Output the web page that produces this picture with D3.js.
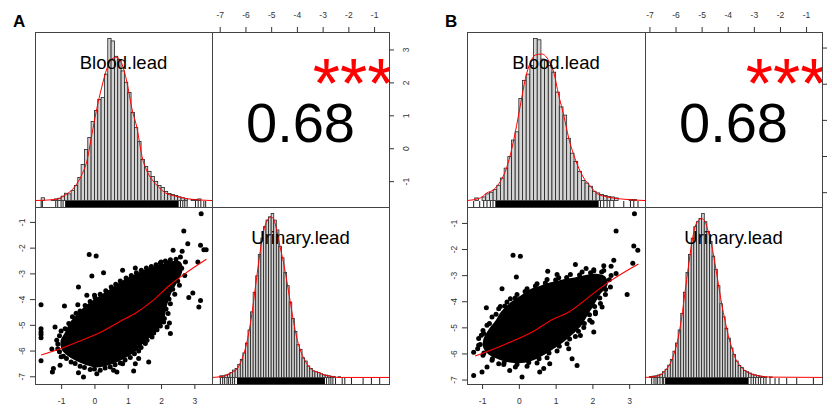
<!DOCTYPE html>
<html>
<head>
<meta charset="utf-8">
<script src="https://cdn.jsdelivr.net/npm/d3@7"></script>
<style>
  body { margin: 0; background: #fff; }
  svg { display: block; font-family: "Liberation Sans", Arial, sans-serif; }
</style>
</head>
<body>
<svg id="chart" width="832" height="408"></svg>
<script>
'use strict';

// ---- data ----
const variables = ['Blood.lead', 'Urinary.lead'];
const corrText = '0.68';
const starsText = '***';
const binWidth = 0.1;

const bloodTicks = [-1, 0, 1, 2, 3];
const urinaryTicks = [-7, -6, -5, -4, -3, -2, -1];

// histograms, relative bar heights (tallest = 1)
const bloodStartA = -1.6;
const bloodHistA = [0.017,0,0,0.003,0.010,0.014,0.027,0.045,0.041,0.062,0.093,0.142,0.222,0.315,0.389,0.488,
  0.556,0.623,0.636,0.78,1.0,0.985,0.89,0.87,0.80,0.73,0.667,0.543,0.45,0.364,0.253,0.21,0.18,0.148,0.117,
  0.093,0.08,0.056,0.043,0.037,0.031,0.023,0.017,0.010,0,0.006,0.006,0.010,0];
const urinaryStartA = -7.0;
const urinaryHistA = [0.01,0.01,0.015,0.02,0.03,0.045,0.055,0.08,0.11,0.15,0.21,0.29,0.40,0.52,0.62,0.75,0.85,
  0.92,0.96,0.98,1.0,0.96,0.90,0.80,0.73,0.64,0.56,0.46,0.36,0.28,0.20,0.17,0.12,0.10,0.07,0.055,0.04,0.035,
  0.03,0.022,0.016,0.014,0.01,0.007,0.005,0,0.004];
const bloodStartB = -1.2;
const bloodHistB = [0.016,0,0.022,0.041,0.051,0.067,0.094,0.139,0.20,0.271,0.373,0.424,0.629,0.741,0.78,0.833,
  1.0,0.992,0.873,0.863,0.833,0.792,0.669,0.578,0.527,0.384,0.292,0.241,0.180,0.124,0.108,0.088,0.057,0.047,
  0.037,0.031,0.024,0.022,0.016,0,0,0,0.006,0.006];
const urinaryStartB = -7.0;
const urinaryHistB = [0.005,0.008,0.01,0.015,0.02,0.035,0.05,0.075,0.11,0.16,0.21,0.29,0.39,0.52,0.64,0.75,0.85,
  0.92,0.95,0.97,1.0,0.95,0.89,0.83,0.74,0.66,0.56,0.45,0.37,0.30,0.24,0.18,0.14,0.10,0.073,0.06,0.043,0.035,
  0.027,0.02,0.016,0.012,0.008,0.005,0.003,0,0.003];

// density curves [value, relative height]
const bloodDensA = [[-1.785,0],[-1.18,0.006],[-0.88,0.033],[-0.58,0.088],[-0.38,0.159],[-0.23,0.241],[-0.08,0.404],
  [0.07,0.567],[0.22,0.70],[0.37,0.812],[0.52,0.873],[0.67,0.884],[0.825,0.843],[0.975,0.731],[1.125,0.567],
  [1.28,0.445],[1.43,0.271],[1.58,0.18],[1.73,0.129],[1.93,0.082],[2.13,0.047],[2.43,0.027],[2.83,0.01],[3.53,0]];
const urinaryDensA = [[-7.298,0],[-6.91,0.006],[-6.524,0.031],[-6.33,0.051],[-6.137,0.112],[-6.008,0.173],
  [-5.879,0.265],[-5.75,0.388],[-5.621,0.541],[-5.492,0.694],[-5.363,0.837],[-5.233,0.929],[-5.104,0.969],
  [-5.0,0.98],[-4.898,0.963],[-4.782,0.898],[-4.653,0.796],[-4.524,0.704],[-4.395,0.592],[-4.266,0.469],
  [-4.137,0.347],[-4.008,0.245],[-3.879,0.173],[-3.75,0.122],[-3.556,0.071],[-3.362,0.041],[-3.169,0.031],
  [-2.911,0.014],[-2.653,0.006],[-2.395,0],[-0.408,0]];
const bloodDensB = [[-1.41,0],[-1.047,0.016],[-0.866,0.047],[-0.684,0.067],[-0.503,0.118],[-0.367,0.18],
  [-0.231,0.282],[-0.095,0.424],[0.041,0.588],[0.177,0.751],[0.313,0.853],[0.449,0.898],[0.631,0.904],
  [0.812,0.863],[0.948,0.792],[1.084,0.649],[1.22,0.527],[1.357,0.384],[1.493,0.282],[1.629,0.20],
  [1.765,0.139],[1.946,0.088],[2.127,0.043],[2.40,0.022],[2.762,0.01],[3.43,0]];
const urinaryDensB = [[-7.17,0],[-6.787,0.006],[-6.531,0.02],[-6.404,0.041],[-6.212,0.082],[-6.021,0.163],
  [-5.893,0.245],[-5.765,0.367],[-5.637,0.52],[-5.51,0.673],[-5.382,0.816],[-5.254,0.918],[-5.127,0.959],
  [-4.999,0.969],[-4.897,0.959],[-4.743,0.888],[-4.616,0.806],[-4.488,0.694],[-4.36,0.571],[-4.233,0.449],
  [-4.105,0.347],[-3.977,0.255],[-3.849,0.184],[-3.722,0.122],[-3.53,0.071],[-3.339,0.041],[-3.083,0.02],
  [-2.828,0.01],[-2.317,0.002],[-0.35,0]];

// rug: solid core range + single ticks in the tails
const bloodRugCoreA = [-0.88, 2.53];
const bloodRugA = [-1.6,-1.564,-1.162,-1.102,-1.002,-0.942,2.582,2.653,2.713,2.783,3.034,3.115,3.195,3.285,3.34];
const urinaryRugCoreA = [-6.33, -2.91];
const urinaryRugA = [-6.975,-6.885,-6.808,-6.717,-6.653,-6.575,-6.498,-6.421,-2.846,-2.756,-2.679,-2.601,-2.498,
  -2.24,-2.137,-1.879,-1.427,-1.104,-0.782];
const bloodRugCoreB = [-0.64, 2.17];
const bloodRugB = [-1.229,-1.065,-0.956,-0.866,-0.775,-0.703,2.218,2.309,2.40,2.472,2.581,2.853,3.034,3.125,3.24];
const urinaryRugCoreB = [-6.4, -3.2];
const urinaryRugB = [-6.915,-6.825,-6.749,-6.685,-6.595,-6.506,-6.455,-3.109,-3.019,-2.93,-2.828,-2.738,-2.623,
  -2.534,-2.381,-2.189,-2.036,-1.742,-1.359,-0.72];

// scatter: solid core outline [blood, urinary] + individual points
const coreA = [[2.56,-2.58],[2.61,-2.90],[2.46,-3.33],[2.32,-3.64],[2.22,-3.95],[2.13,-4.33],[2.08,-4.69],
  [1.98,-5.01],[1.79,-5.26],[1.59,-5.51],[1.40,-5.76],[1.21,-6.02],[0.92,-6.25],[0.63,-6.44],[0.34,-6.56],
  [0.05,-6.62],[-0.23,-6.53],[-0.53,-6.37],[-0.77,-6.19],[-0.96,-5.94],[-0.99,-5.63],[-0.86,-5.32],
  [-0.72,-4.94],[-0.48,-4.58],[-0.23,-4.26],[0.05,-4.01],[0.34,-3.76],[0.63,-3.51],[0.92,-3.26],
  [1.21,-3.08],[1.50,-2.90],[1.79,-2.77],[2.08,-2.65],[2.37,-2.56]];
const pointsA = [[3.205,-0.68],[2.683,-1.35],[2.803,-1.85],[3.185,-1.91],[3.285,-2.08],[3.355,-2.08],[2.362,-2.10],
  [2.633,-2.14],[-0.158,-2.27],[0.052,-2.32],[3.105,-2.56],[2.0,-2.56],[2.231,-2.60],[1.227,-2.79],[0.846,-2.88],
  [0.273,-2.98],[-0.078,-3.10],[-0.48,-3.53],[2.954,-3.76],[2.833,-3.94],[3.185,-4.05],[3.135,-4.31],
  [-1.604,-4.22],[-0.901,-4.27],[-0.229,-3.85],[0.002,-3.85],[-0.5,-4.22],[2.251,-4.93],[2.181,-5.08],
  [2.281,-5.34],[1.679,-5.41],[-1.604,-5.15],[-1.604,-5.28],[-1.604,-5.38],[-1.604,-5.50],[-1.183,-5.08],
  [-1.28,-5.94],[-1.0,-6.24],[-1.604,-6.40],[-1.233,-6.70],[-1.263,-6.83],[-1.032,-6.57],[-0.48,-6.86],
  [-0.329,-7.03],[0.072,-6.90],[0.574,-6.77],[0.675,-6.83],[1.177,-6.79],[1.629,-6.44],[1.328,-6.31],
  [1.227,-6.51],[0.846,-6.51],
  [-0.881,-5.15],[-0.661,-4.69],[-0.43,-4.46],[-0.128,-4.09],[0.173,-3.81],[0.504,-3.53],[0.775,-3.30],
  [1.107,-3.08],[1.408,-2.88],[1.709,-2.73],[1.98,-2.60],[2.281,-2.47],[2.582,-2.36],[2.733,-2.56],[2.713,-3.08],
  [2.552,-3.46],[2.412,-3.81],[2.281,-4.18],[2.211,-4.56],[2.08,-4.89],[1.88,-5.19],[1.729,-5.47],[1.528,-5.73],
  [1.328,-6.02],[1.077,-6.27],[0.775,-6.48],[0.474,-6.64],[0.173,-6.77],[-0.128,-6.74],[-0.43,-6.61],
  [-0.701,-6.44],[-0.931,-6.22],[-1.102,-5.93],[-1.132,-5.60],[-1.002,-5.24],
  [-0.77,-4.95],[-0.55,-4.55],[-0.28,-4.25],[0.02,-3.95],[0.34,-3.68],[0.64,-3.42],[0.95,-3.18],[1.26,-2.98],
  [1.56,-2.79],[1.85,-2.66],[2.13,-2.52],[2.45,-2.45],[2.62,-2.80],[2.50,-3.30],[2.35,-3.62],[2.24,-4.0],
  [2.15,-4.38],[2.10,-4.75],[1.98,-5.05],[1.78,-5.32],[1.58,-5.60],[1.40,-5.88],[1.20,-6.12],[0.92,-6.37],
  [0.62,-6.55],[0.32,-6.68],[0.0,-6.72],[-0.30,-6.66],[-0.58,-6.50],[-0.84,-6.31],[-1.05,-6.05],[-1.10,-5.75],
  [-1.05,-5.42]];
const coreB = [[2.33,-3.08],[2.38,-3.39],[2.20,-3.69],[2.07,-4.00],[1.94,-4.31],[1.81,-4.60],[1.68,-4.91],
  [1.46,-5.22],[1.20,-5.53],[0.94,-5.78],[0.68,-6.02],[0.42,-6.21],[0.16,-6.32],[-0.20,-6.32],[-0.50,-6.21],
  [-0.80,-6.02],[-0.94,-5.78],[-0.94,-5.47],[-0.80,-5.10],[-0.63,-4.80],[-0.46,-4.42],[-0.20,-4.06],
  [0.07,-3.81],[0.33,-3.57],[0.59,-3.44],[0.85,-3.32],[1.20,-3.20],[1.55,-3.12],[1.90,-3.01],[2.16,-2.99]];
const pointsB = [[3.143,-0.65],[2.644,-1.31],[3.125,-1.88],[3.234,-2.05],[3.098,-2.54],[2.944,-3.74],[-0.158,-2.24],
  [0.041,-2.28],[-0.068,-3.07],[1.538,-2.59],[1.828,-2.75],[2.037,-2.79],[2.309,-2.64],[2.581,-2.43],[2.508,-2.66],
  [2.644,-2.94],[0.785,-2.85],[1.039,-2.98],[-0.458,-3.52],[-0.231,-3.90],[-0.503,-4.20],[-0.884,-4.25],
  [2.263,-4.22],[2.082,-4.48],[1.991,-4.80],[2.037,-5.18],[1.674,-5.31],[1.356,-5.82],[1.447,-6.20],[1.583,-6.46],
  [0.84,-6.39],[0.676,-6.58],[0.567,-6.71],[0.087,-6.90],[-0.249,-6.65],[-0.548,-6.39],[-0.866,-6.52],
  [-1.002,-6.71],[-1.229,-6.84],[-1.229,-5.95],[-1.093,-5.69],[-0.957,-5.24],
  [-0.866,-4.92],[-0.73,-4.60],[-0.548,-4.29],[-0.322,-4.03],[-0.05,-3.74],[0.223,-3.52],[0.495,-3.33],
  [0.767,-3.17],[1.084,-3.10],[1.402,-2.98],[1.719,-2.88],[2.037,-2.84],[2.309,-2.82],[2.508,-3.01],[2.49,-3.45],
  [2.354,-3.74],[2.218,-4.09],[2.082,-4.41],[1.928,-4.73],[1.765,-5.01],[1.538,-5.35],[1.311,-5.63],[1.039,-5.91],
  [0.767,-6.16],[0.495,-6.37],[0.223,-6.49],[-0.095,-6.52],[-0.412,-6.42],[-0.73,-6.26],[-0.975,-6.07],
  [-1.12,-5.82],[-1.093,-5.43],[-0.975,-5.12],
  [-0.80,-4.85],[-0.62,-4.50],[-0.38,-4.18],[-0.10,-3.88],[0.17,-3.63],[0.45,-3.42],[0.72,-3.30],[1.00,-3.19],
  [1.30,-3.09],[1.65,-2.99],[1.95,-2.91],[2.25,-2.88],[2.46,-3.18],[2.36,-3.55],[2.20,-3.88],[2.06,-4.20],
  [1.92,-4.52],[1.78,-4.85],[1.62,-5.15],[1.38,-5.45],[1.10,-5.72],[0.82,-5.98],[0.55,-6.20],[0.27,-6.35],
  [-0.05,-6.42],[-0.40,-6.36],[-0.72,-6.20],[-0.95,-5.98],[-1.05,-5.66],[-1.02,-5.30]];

// smoother through the scatter
const smoothA = [[-1.60,-6.17],[-1.0,-5.92],[-0.5,-5.66],[0.2,-5.28],[0.75,-4.88],[1.25,-4.53],[1.75,-4.06],
  [2.25,-3.47],[2.75,-2.98],[3.36,-2.45]];
const smoothB = [[-1.19,-6.10],[-0.5,-5.72],[0.4,-5.15],[0.94,-4.68],[1.31,-4.45],[2.1,-3.62],[2.49,-3.22],
  [3.25,-2.57]];

// ---- layout ----
const panels = [
  { letter: 'A', x0: 35, xm: 212, x1: 389, bloodDomain: [-1.785, 3.53], urinDomain: [-7.30, -0.42],
    bloodStart: bloodStartA, bloodHist: bloodHistA, urinStart: urinaryStartA, urinHist: urinaryHistA,
    bloodDens: bloodDensA, urinDens: urinaryDensA, bloodRugCore: bloodRugCoreA, bloodRug: bloodRugA,
    urinRugCore: urinaryRugCoreA, urinRug: urinaryRugA, core: coreA, points: pointsA, smooth: smoothA },
  { letter: 'B', x0: 467, xm: 645, x1: 822, bloodDomain: [-1.41, 3.43], urinDomain: [-7.17, -0.39],
    bloodStart: bloodStartB, bloodHist: bloodHistB, urinStart: urinaryStartB, urinHist: urinaryHistB,
    bloodDens: bloodDensB, urinDens: urinaryDensB, bloodRugCore: bloodRugCoreB, bloodRug: bloodRugB,
    urinRugCore: urinaryRugCoreB, urinRug: urinaryRugB, core: coreB, points: pointsB, smooth: smoothB }
];
const y0 = 32, ym = 207, y1 = 384;
const axisColor = '#333';

const svg = d3.select('#chart');
const defs = svg.append('defs');

function clip(id, x, y, w, h) {
  defs.append('clipPath').attr('id', id).append('rect')
    .attr('x', x).attr('y', y).attr('width', w).attr('height', h);
  return 'url(#' + id + ')';
}

function drawHist(g, vals, start, xs, ys, dens, rugCore, rug, label, clipUrl, bottom, labelX, labelY) {
  const c = g.append('g').attr('clip-path', clipUrl);
  const bins = vals.map((v, i) => ({ x0: start + i * binWidth, x1: start + (i + 1) * binWidth, v: v }))
    .filter(d => d.v > 0);
  c.selectAll('rect.bar').data(bins).enter().append('rect')
    .attr('class', 'bar')
    .attr('x', d => xs(d.x0))
    .attr('width', d => xs(d.x1) - xs(d.x0))
    .attr('y', d => ys(d.v))
    .attr('height', d => ys(0) - ys(d.v))
    .attr('fill', '#d4d4d4')
    .attr('stroke', '#222')
    .attr('stroke-width', 0.8);

  c.append('path').datum(dens)
    .attr('d', d3.line().x(d => xs(d[0])).y(d => ys(d[1])).curve(d3.curveMonotoneX))
    .attr('fill', 'none').attr('stroke', '#ff0000').attr('stroke-width', 1);

  c.append('rect')
    .attr('x', xs(rugCore[0])).attr('width', xs(rugCore[1]) - xs(rugCore[0]))
    .attr('y', bottom - 6).attr('height', 6).attr('fill', '#000');
  c.selectAll('line.rug').data(rug).enter().append('line')
    .attr('class', 'rug')
    .attr('x1', d => xs(d)).attr('x2', d => xs(d))
    .attr('y1', bottom).attr('y2', bottom - 6)
    .attr('stroke', '#000').attr('stroke-width', 0.9);

  g.append('text').attr('x', labelX).attr('y', labelY)
    .attr('text-anchor', 'middle').attr('font-size', 18.5).attr('fill', '#000')
    .text(label);
}

function styleAxis(ax) {
  ax.select('.domain').remove();
  ax.selectAll('line').attr('stroke', axisColor);
  ax.selectAll('text').attr('fill', axisColor).attr('font-size', 8.5)
    .attr('font-family', '"Liberation Sans", Arial, sans-serif');
}

panels.forEach((p, k) => {
  const g = svg.append('g');
  const xB = d3.scaleLinear().domain(p.bloodDomain).range([p.x0, p.xm]);
  const xU = d3.scaleLinear().domain(p.urinDomain).range([p.xm, p.x1]);
  const yB = d3.scaleLinear().domain(p.bloodDomain).range([ym, y0]);
  const yU = d3.scaleLinear().domain(p.urinDomain).range([y1, ym]);
  const hTop = d3.scaleLinear().domain([-0.04, 1.04]).range([ym, y0]);
  const hBot = d3.scaleLinear().domain([-0.04, 1.04]).range([y1, ym]);

  const c11 = clip('c11' + k, p.x0, y0, p.xm - p.x0, ym - y0);
  const c12 = clip('c12' + k, p.xm, y0, p.x1 - p.xm, ym - y0);
  const c21 = clip('c21' + k, p.x0, ym, p.xm - p.x0, y1 - ym);
  const c22 = clip('c22' + k, p.xm, ym, p.x1 - p.xm, y1 - ym);

  // diagonal: histograms
  drawHist(g, p.bloodHist, p.bloodStart, xB, hTop, p.bloodDens, p.bloodRugCore, p.bloodRug,
    variables[0], c11, ym, (p.x0 + p.xm) / 2, 69);
  drawHist(g, p.urinHist, p.urinStart, xU, hBot, p.urinDens, p.urinRugCore, p.urinRug,
    variables[1], c22, y1, (p.xm + p.x1) / 2, 243.5);

  // lower: scatter
  const sc = g.append('g').attr('clip-path', c21);
  sc.append('path').datum(p.core)
    .attr('d', d3.line().x(d => xB(d[0])).y(d => yU(d[1])).curve(d3.curveCatmullRomClosed))
    .attr('fill', '#000').attr('stroke', '#000').attr('stroke-width', 2).attr('stroke-linejoin', 'round');
  sc.selectAll('circle').data(p.points).enter().append('circle')
    .attr('cx', d => xB(d[0])).attr('cy', d => yU(d[1])).attr('r', 2.5).attr('fill', '#000');
  sc.append('path').datum(p.smooth)
    .attr('d', d3.line().x(d => xB(d[0])).y(d => yU(d[1])).curve(d3.curveMonotoneX))
    .attr('fill', 'none').attr('stroke', '#ff0000').attr('stroke-width', 1.1);

  // upper: correlation
  const uc = g.append('g').attr('clip-path', c12);
  uc.append('text').attr('x', (p.xm + p.x1) / 2).attr('y', 141.5)
    .attr('text-anchor', 'middle').attr('font-size', 56).attr('fill', '#000').text(corrText);
  uc.append('text').attr('x', p.xm + 0.8 * (p.x1 - p.xm)).attr('y', 108)
    .attr('text-anchor', 'middle').attr('font-size', 70).attr('fill', '#ff0000').text(starsText);

  // cell boxes
  [[p.x0, y0, p.xm, ym], [p.xm, y0, p.x1, ym], [p.x0, ym, p.xm, y1], [p.xm, ym, p.x1, y1]].forEach(b => {
    g.append('rect').attr('x', b[0] + 0.5).attr('y', b[1] + 0.5)
      .attr('width', b[2] - b[0]).attr('height', b[3] - b[1])
      .attr('fill', 'none').attr('stroke', '#444').attr('stroke-width', 1);
  });

  // axes
  const fmt = d => String(d);
  const top = g.append('g').attr('transform', 'translate(0,' + y0 + ')')
    .call(d3.axisTop(xU).tickValues(urinaryTicks).tickFormat(fmt).tickSizeOuter(0).tickSize(5).tickPadding(9));
  styleAxis(top);
  const bot = g.append('g').attr('transform', 'translate(0,' + y1 + ')')
    .call(d3.axisBottom(xB).tickValues(bloodTicks).tickFormat(fmt).tickSizeOuter(0).tickSize(5).tickPadding(9));
  styleAxis(bot);
  const left = g.append('g').attr('transform', 'translate(' + p.x0 + ',0)')
    .call(d3.axisLeft(yU).tickValues(urinaryTicks).tickFormat(fmt).tickSizeOuter(0).tickSize(5));
  styleAxis(left);
  left.selectAll('text').attr('transform', 'rotate(-90)').attr('x', 0).attr('y', -10.4)
    .attr('dy', null).attr('text-anchor', 'middle');
  const right = g.append('g').attr('transform', 'translate(' + p.x1 + ',0)')
    .call(d3.axisRight(yB).tickValues(bloodTicks).tickFormat(fmt).tickSizeOuter(0).tickSize(5));
  styleAxis(right);
  right.selectAll('text').attr('transform', 'rotate(-90)').attr('x', 0).attr('y', 19.9)
    .attr('dy', null).attr('text-anchor', 'middle');

  // panel letter
  svg.append('text').attr('x', p.x0 - 22).attr('y', 27)
    .attr('font-size', 17).attr('font-weight', 'bold').attr('fill', '#000').text(p.letter);
});
</script>
</body>
</html>
